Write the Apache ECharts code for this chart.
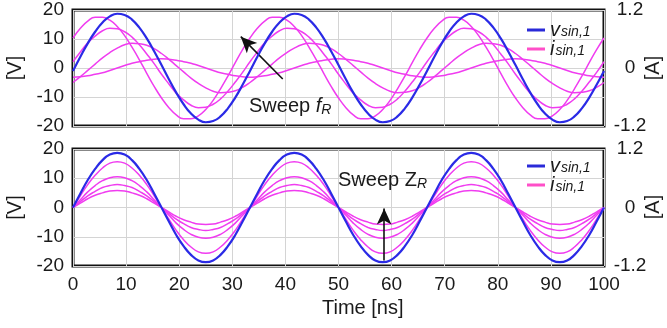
<!DOCTYPE html>
<html><head><meta charset="utf-8">
<script src="https://cdn.jsdelivr.net/npm/echarts@6/dist/echarts.min.js"></script>
<style>html,body{margin:0;padding:0;background:#fff}#c{width:667px;height:328px}</style>
</head><body><div id="c"></div>
<script>
// Time samples [ns]
const time = [0,1.39,2.78,4.17,5.56,6.94,8.33,9.72,11.11,12.5,13.89,15.28,16.67,18.06,19.44,20.83,22.22,23.61,25,26.39,27.78,29.17,30.56,31.94,33.33,34.72,36.11,37.5,38.89,40.28,41.67,43.06,44.44,45.83,47.22,48.61,50,51.39,52.78,54.17,55.56,56.94,58.33,59.72,61.11,62.5,63.89,65.28,66.67,68.06,69.44,70.83,72.22,73.61,75,76.39,77.78,79.17,80.56,81.94,83.33,84.72,86.11,87.5,88.89,90.28,91.67,93.06,94.44,95.83,97.22,98.61,100];
// Top panel (sweep f_R): voltage [V]
const vTop = [-1.0,3.9,8.5,12.5,15.7,17.8,18.7,18.3,16.7,13.9,10.2,5.8,1.0,-3.9,-8.5,-12.5,-15.7,-17.8,-18.7,-18.3,-16.7,-13.9,-10.2,-5.8,
  -1.0,3.9,8.5,12.5,15.7,17.8,18.7,18.3,16.7,13.9,10.2,5.8,1.0,-3.9,-8.5,-12.5,-15.7,-17.8,-18.7,-18.3,-16.7,-13.9,-10.2,-5.8,
  -1.0,3.9,8.5,12.5,15.7,17.8,18.7,18.3,16.7,13.9,10.2,5.8,1.0,-3.9,-8.5,-12.5,-15.7,-17.8,-18.7,-18.3,-16.7,-13.9,-10.2,-5.8,-1.0];
// Top panel currents [A]
const iTopA = [0.62,0.82,0.97,1.05,1.05,0.99,0.86,0.67,0.43,0.17,-0.11,-0.38,-0.62,-0.82,-0.97,-1.05,-1.05,-0.99,-0.86,-0.67,-0.43,-0.17,0.11,0.38,
  0.62,0.82,0.97,1.05,1.05,0.99,0.86,0.67,0.43,0.17,-0.11,-0.38,-0.62,-0.82,-0.97,-1.05,-1.05,-0.99,-0.86,-0.67,-0.43,-0.17,0.11,0.38,
  0.62,0.82,0.97,1.05,1.05,0.99,0.86,0.67,0.43,0.17,-0.11,-0.38,-0.62,-0.82,-0.97,-1.05,-1.05,-0.99,-0.86,-0.67,-0.43,-0.17,0.11,0.38,0.62];
const iTopB = [0.13,0.33,0.52,0.66,0.77,0.82,0.81,0.75,0.64,0.48,0.29,0.09,-0.13,-0.33,-0.52,-0.66,-0.77,-0.82,-0.81,-0.75,-0.64,-0.48,-0.29,-0.09,
  0.13,0.33,0.52,0.66,0.77,0.82,0.81,0.75,0.64,0.48,0.29,0.09,-0.13,-0.33,-0.52,-0.66,-0.77,-0.82,-0.81,-0.75,-0.64,-0.48,-0.29,-0.09,
  0.13,0.33,0.52,0.66,0.77,0.82,0.81,0.75,0.64,0.48,0.29,0.09,-0.13,-0.33,-0.52,-0.66,-0.77,-0.82,-0.81,-0.75,-0.64,-0.48,-0.29,-0.09,0.13];
const iTopC = [-0.30,-0.18,-0.05,0.08,0.21,0.32,0.41,0.48,0.51,0.50,0.47,0.40,0.30,0.18,0.05,-0.08,-0.21,-0.32,-0.41,-0.48,-0.51,-0.50,-0.47,-0.40,
  -0.30,-0.18,-0.05,0.08,0.21,0.32,0.41,0.48,0.51,0.50,0.47,0.40,0.30,0.18,0.05,-0.08,-0.21,-0.32,-0.41,-0.48,-0.51,-0.50,-0.47,-0.40,
  -0.30,-0.18,-0.05,0.08,0.21,0.32,0.41,0.48,0.51,0.50,0.47,0.40,0.30,0.18,0.05,-0.08,-0.21,-0.32,-0.41,-0.48,-0.51,-0.50,-0.47,-0.40,-0.30];
const iTopD = [-0.19,-0.18,-0.16,-0.13,-0.10,-0.05,0,0.05,0.10,0.13,0.16,0.18,0.19,0.18,0.16,0.13,0.10,0.05,0,-0.05,-0.10,-0.13,-0.16,-0.18,
  -0.19,-0.18,-0.16,-0.13,-0.10,-0.05,0,0.05,0.10,0.13,0.16,0.18,0.19,0.18,0.16,0.13,0.10,0.05,0,-0.05,-0.10,-0.13,-0.16,-0.18,
  -0.19,-0.18,-0.16,-0.13,-0.10,-0.05,0,0.05,0.10,0.13,0.16,0.18,0.19,0.18,0.16,0.13,0.10,0.05,0,-0.05,-0.10,-0.13,-0.16,-0.18,-0.19];
// Bottom panel (sweep Z_R): voltage [V]
const vBot = [0,4.8,9.4,13.2,16.2,18.1,18.7,18.1,16.2,13.2,9.4,4.8,0,-4.8,-9.4,-13.2,-16.2,-18.1,-18.7,-18.1,-16.2,-13.2,-9.4,-4.8,
  0,4.8,9.4,13.2,16.2,18.1,18.7,18.1,16.2,13.2,9.4,4.8,0,-4.8,-9.4,-13.2,-16.2,-18.1,-18.7,-18.1,-16.2,-13.2,-9.4,-4.8,
  0,4.8,9.4,13.2,16.2,18.1,18.7,18.1,16.2,13.2,9.4,4.8,0,-4.8,-9.4,-13.2,-16.2,-18.1,-18.7,-18.1,-16.2,-13.2,-9.4,-4.8,0];
// Bottom panel currents [A]
const iBotA = [0,0.24,0.47,0.66,0.81,0.91,0.94,0.91,0.81,0.66,0.47,0.24,0,-0.24,-0.47,-0.66,-0.81,-0.91,-0.94,-0.91,-0.81,-0.66,-0.47,-0.24,
  0,0.24,0.47,0.66,0.81,0.91,0.94,0.91,0.81,0.66,0.47,0.24,0,-0.24,-0.47,-0.66,-0.81,-0.91,-0.94,-0.91,-0.81,-0.66,-0.47,-0.24,
  0,0.24,0.47,0.66,0.81,0.91,0.94,0.91,0.81,0.66,0.47,0.24,0,-0.24,-0.47,-0.66,-0.81,-0.91,-0.94,-0.91,-0.81,-0.66,-0.47,-0.24,0];
const iBotB = [0,0.16,0.32,0.45,0.55,0.61,0.63,0.61,0.55,0.45,0.32,0.16,0,-0.16,-0.32,-0.45,-0.55,-0.61,-0.63,-0.61,-0.55,-0.45,-0.32,-0.16,
  0,0.16,0.32,0.45,0.55,0.61,0.63,0.61,0.55,0.45,0.32,0.16,0,-0.16,-0.32,-0.45,-0.55,-0.61,-0.63,-0.61,-0.55,-0.45,-0.32,-0.16,
  0,0.16,0.32,0.45,0.55,0.61,0.63,0.61,0.55,0.45,0.32,0.16,0,-0.16,-0.32,-0.45,-0.55,-0.61,-0.63,-0.61,-0.55,-0.45,-0.32,-0.16,0];
const iBotC = [0,0.12,0.24,0.33,0.41,0.45,0.47,0.45,0.41,0.33,0.24,0.12,0,-0.12,-0.24,-0.33,-0.41,-0.45,-0.47,-0.45,-0.41,-0.33,-0.24,-0.12,
  0,0.12,0.24,0.33,0.41,0.45,0.47,0.45,0.41,0.33,0.24,0.12,0,-0.12,-0.24,-0.33,-0.41,-0.45,-0.47,-0.45,-0.41,-0.33,-0.24,-0.12,
  0,0.12,0.24,0.33,0.41,0.45,0.47,0.45,0.41,0.33,0.24,0.12,0,-0.12,-0.24,-0.33,-0.41,-0.45,-0.47,-0.45,-0.41,-0.33,-0.24,-0.12,0];
const iBotD = [0,0.09,0.18,0.25,0.30,0.34,0.35,0.34,0.30,0.25,0.18,0.09,0,-0.09,-0.18,-0.25,-0.30,-0.34,-0.35,-0.34,-0.30,-0.25,-0.18,-0.09,
  0,0.09,0.18,0.25,0.30,0.34,0.35,0.34,0.30,0.25,0.18,0.09,0,-0.09,-0.18,-0.25,-0.30,-0.34,-0.35,-0.34,-0.30,-0.25,-0.18,-0.09,
  0,0.09,0.18,0.25,0.30,0.34,0.35,0.34,0.30,0.25,0.18,0.09,0,-0.09,-0.18,-0.25,-0.30,-0.34,-0.35,-0.34,-0.30,-0.25,-0.18,-0.09,0];
// Axis ticks
const xTicks = {min:0, max:100, interval:10};
const vTicks = {min:-20, max:20, interval:10};
const aTicks = {min:-1.2, max:1.2, interval:1.2};
// Annotation arrows in data coordinates [time, V]
const arrowTop = [[39.5,-3.8],[31.6,10.8]];
const arrowBot = [[58.6,-18.1],[58.6,-0.3]];

const FONT = 'Liberation Sans, Arial, sans-serif';
const BLUE = '#2a2ae6', MAG = '#f03cf0';
const chart = echarts.init(document.getElementById('c'), null, {renderer:'canvas'});

const pair = (ys) => time.map((t,k)=>[t, ys[k]]);
function grid(top, h){ return {left:73, right:63, top:top, height:h, show:true, borderColor:'#111', borderWidth:3, backgroundColor:'#fff', containLabel:false, outerBoundsMode:'none'}; }
function xAx(gi, showLabels){
  return {type:'value', gridIndex:gi, min:xTicks.min, max:xTicks.max, interval:xTicks.interval,
    axisLine:{show:false}, axisTick:{show:false},
    axisLabel:{show:showLabels, fontSize:19, color:'#1a1a1a', fontFamily:FONT, margin:9},
    splitLine:{show:true, lineStyle:{color:'#d4d4d4', width:1}}};
}
function yL(gi){
  return {type:'value', gridIndex:gi, position:'left', min:vTicks.min, max:vTicks.max, interval:vTicks.interval,
    name:'[V]', nameLocation:'middle', nameGap:48, nameRotate:90,
    nameTextStyle:{fontSize:20, color:'#1a1a1a', fontFamily:FONT},
    axisLine:{show:false}, axisTick:{show:false},
    axisLabel:{fontSize:19, color:'#1a1a1a', fontFamily:FONT, margin:9},
    splitLine:{show:true, lineStyle:{color:'#d4d4d4', width:1}}};
}
function yR(gi){
  return {type:'value', gridIndex:gi, position:'right', min:aTicks.min, max:aTicks.max, interval:aTicks.interval,
    axisLine:{show:false}, axisTick:{show:false},
    axisLabel:{fontSize:19, color:'#1a1a1a', fontFamily:FONT, margin:26, align:'center'},
    splitLine:{show:false}};
}
function ln(name, data, xi, yi, color, w, z){
  return {name:name, type:'line', xAxisIndex:xi, yAxisIndex:yi, data:pair(data), smooth:true, showSymbol:false,
    lineStyle:{color:color, width:w}, itemStyle:{color:color}, z:z, silent:true, animation:false};
}
const arrowLine = (pts) => ({silent:true, symbol:['none','arrow'], symbolSize:[11,16], label:{show:false},
  lineStyle:{color:'#111', width:1.6, type:'solid'}, data:[[{coord:pts[0]},{coord:pts[1]}]]});

const legendRich = {a:{fontSize:20, fontStyle:'italic', fontFamily:FONT, color:'#1a1a1a'},
  b:{fontSize:14, fontStyle:'italic', fontFamily:FONT, color:'#1a1a1a', verticalAlign:'bottom', padding:[9,0,0,1]}};
function legend(top){
  return {show:true, orient:'vertical', left:522, top:top, itemWidth:18, itemHeight:3, itemGap:-1, icon:'rect',
    data:[{name:'v', itemStyle:{color:'#2a2ad8'}},{name:'i', itemStyle:{color:'#ff4fc8'}}],
    formatter:(n)=>'{a|'+n+'}{b|sin,1}', textStyle:{rich:legendRich, lineHeight:19}, selectedMode:false};
}
const ampName = (y) => ({type:'text', x:653, y:y, rotation:Math.PI/2, z:50,
  style:{text:'[A]', fill:'#1a1a1a', font:'20px '+FONT, align:'center', verticalAlign:'middle'}});

const vSeriesTop = ln('v', vTop, 0, 0, BLUE, 2.2, 5);
vSeriesTop.markLine = arrowLine(arrowTop);
const vSeriesBot = ln('v', vBot, 1, 2, BLUE, 2.2, 5);
vSeriesBot.markLine = arrowLine(arrowBot);

chart.setOption({
  animation:false,
  grid:[grid(10,116), grid(149,117)],
  xAxis:[xAx(0,false), xAx(1,true)],
  yAxis:[yL(0), yR(0), yL(1), yR(1)],
  legend:[legend(15), legend(151)],
  series:[
    ln('i', iTopA, 0, 1, MAG, 1.5, 3), ln('i', iTopB, 0, 1, MAG, 1.5, 3),
    ln('i', iTopC, 0, 1, MAG, 1.5, 3), ln('i', iTopD, 0, 1, MAG, 1.5, 3),
    vSeriesTop,
    ln('i', iBotA, 1, 3, MAG, 1.5, 3), ln('i', iBotB, 1, 3, MAG, 1.5, 3),
    ln('i', iBotC, 1, 3, MAG, 1.5, 3), ln('i', iBotD, 1, 3, MAG, 1.5, 3),
    vSeriesBot
  ],
  graphic:[
    {type:'text', left:249, top:96, z:50, style:{text:'Sweep {f|f}{r|R}', fill:'#1a1a1a', font:'20px '+FONT,
      rich:{f:{fontSize:20, fontStyle:'italic', fontFamily:FONT, fill:'#1a1a1a'}, r:{fontSize:14, fontStyle:'italic', fontFamily:FONT, fill:'#1a1a1a', verticalAlign:'bottom', padding:[9,0,0,0]}}}},
    {type:'text', left:338, top:170, z:50, style:{text:'Sweep Z{r|R}', fill:'#1a1a1a', font:'20px '+FONT,
      rich:{r:{fontSize:14, fontStyle:'italic', fontFamily:FONT, fill:'#1a1a1a', verticalAlign:'bottom', padding:[9,0,0,0]}}}},
    {type:'text', left:322, top:298, z:50, style:{text:'Time [ns]', fill:'#1a1a1a', font:'20px '+FONT}},
    ampName(68), ampName(207)
  ]
});
</script></body></html>
